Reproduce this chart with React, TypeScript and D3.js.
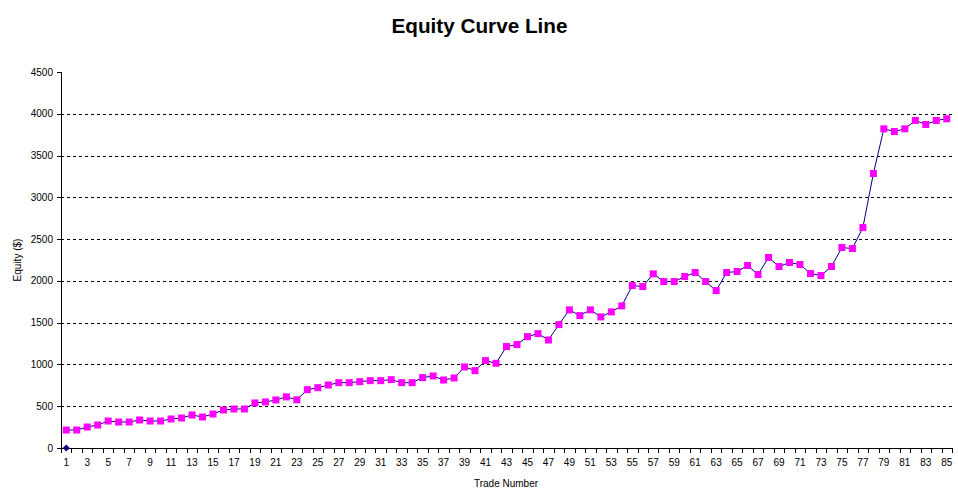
import React from "react";
import * as d3 from "d3";

const trades: number[] = Array.from({ length: 85 }, (_, i) => i + 1);
const equity: number[] = [
  215, 215, 251, 275, 323, 311, 311, 335, 323, 323,
  347, 359, 395, 371, 407, 455, 467, 467, 539, 551,
  575, 612, 577, 698, 722, 754, 782, 782, 794, 806,
  806, 818, 782, 782, 842, 862, 814, 838, 970, 926,
  1046, 1014, 1214, 1238, 1333, 1369, 1293, 1477, 1653, 1585,
  1653, 1569, 1629, 1701, 1944, 1932, 2084, 1992, 1992, 2052,
  2100, 1992, 1884, 2100, 2112, 2184, 2076, 2280, 2172, 2220,
  2196, 2088, 2064, 2172, 2399, 2387, 2639, 3285, 3820, 3788,
  3820, 3920, 3872, 3920, 3940,
];
const baseline: number[] = [0];
const yTicks: number[] = [0, 500, 1000, 1500, 2000, 2500, 3000, 3500, 4000, 4500];

const W = 958;
const H = 500;
const left = 61;
const right = 952;
const top = 72;
const bottom = 448;
const font = "Arial, 'Liberation Sans', sans-serif";

export default function App() {
  const x = d3.scaleBand<number>().domain(trades).range([left, right]).padding(0);
  const y = d3.scaleLinear().domain([0, 4500]).range([bottom, top]);
  const cx = (t: number) => (x(t) as number) + x.bandwidth() / 2;
  const line = d3
    .line<number>()
    .x((_, i) => cx(trades[i]))
    .y((d) => y(d));

  const boundaries = trades.map((t) => x(t) as number).concat([right]);

  return (
    <svg width={W} height={H} style={{ position: "absolute", left: 0, top: 0, background: "#fff" }}>
      <rect x={0} y={0} width={W} height={H} fill="#fff" />
      <text
        x={479.5}
        y={33}
        textAnchor="middle"
        fontFamily={font}
        fontWeight="bold"
        fontSize={20}
        textLength={176}
        lengthAdjust="spacingAndGlyphs"
      >
        Equity Curve Line
      </text>
      {yTicks
        .filter((t) => t > 0 && t < 4500)
        .map((t) => (
          <line
            key={"g" + t}
            x1={left}
            x2={right}
            y1={Math.round(y(t)) + 0.5}
            y2={Math.round(y(t)) + 0.5}
            stroke="#000"
            strokeWidth={1}
            strokeDasharray="3,3"
          />
        ))}
      {yTicks.map((t) => (
        <g key={"y" + t}>
          <line x1={left - 4} x2={left} y1={Math.round(y(t)) + 0.5} y2={Math.round(y(t)) + 0.5} stroke="#000" />
          <text x={left - 8} y={y(t) + 3.5} textAnchor="end" fontFamily={font} fontSize={10}>
            {t}
          </text>
        </g>
      ))}
      <line x1={left + 0.5} x2={left + 0.5} y1={top} y2={bottom} stroke="#000" />
      <line x1={left} x2={right} y1={bottom + 0.5} y2={bottom + 0.5} stroke="#000" />
      {boundaries.map((b, i) => (
        <line key={"xt" + i} x1={Math.round(b) + 0.5} x2={Math.round(b) + 0.5} y1={bottom} y2={bottom + 5} stroke="#000" />
      ))}
      {trades
        .filter((t) => t % 2 === 1)
        .map((t) => (
          <text key={"xl" + t} x={cx(t)} y={466} textAnchor="middle" fontFamily={font} fontSize={10}>
            {t}
          </text>
        ))}
      <text x={506} y={487} textAnchor="middle" fontFamily={font} fontSize={10}>
        Trade Number
      </text>
      <text
        transform={`translate(21,260) rotate(-90)`}
        textAnchor="middle"
        fontFamily={font}
        fontSize={10}
      >
        Equity ($)
      </text>
      <path d={line(equity) || ""} fill="none" stroke="#000080" strokeWidth={1} />
      {equity.map((v, i) => (
        <rect key={"m" + i} x={cx(trades[i]) - 3.5} y={y(v) - 3.5} width={7} height={7} fill="#FF00FF" />
      ))}
      {baseline.map((v, i) => (
        <path
          key={"b" + i}
          d={`M${cx(trades[i])},${y(v) - 3.5} l3.5,3.5 l-3.5,3.5 l-3.5,-3.5 Z`}
          fill="#000080"
        />
      ))}
    </svg>
  );
}
